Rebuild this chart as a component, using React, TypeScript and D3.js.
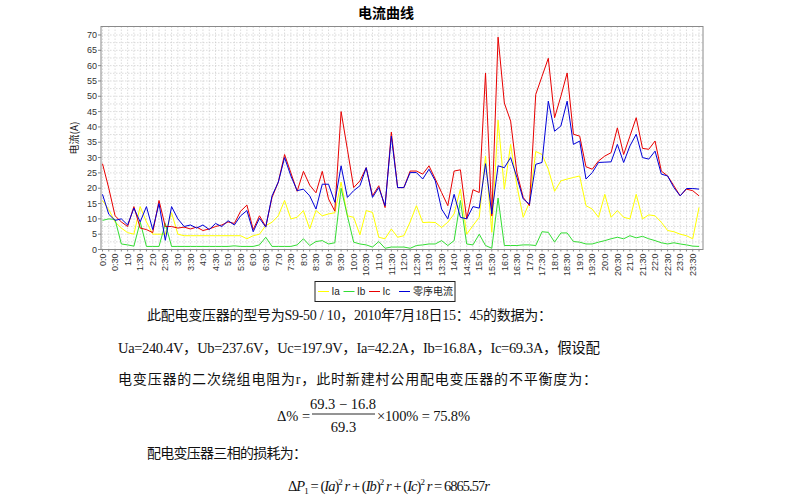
import React from 'react';
import * as d3 from 'd3';

// 96 samples, every 15 minutes
const TIMES: string[] = d3.range(96).map((i) => `${Math.floor(i / 4)}:${(i % 4) * 15}`);

const IA = [16, 13, 9, 7, 5.5, 5, 14, 9, 5, 5, 5, 12, 5, 4.5, 4.5, 4.5, 4.5, 4.5, 4.5, 4.5,
  4.5, 4.5, 4.5, 3.5, 4.5, 5, 7.8, 8.9, 11, 16, 10, 10.5, 12.7, 6.7, 12.7, 11, 11.6, 12, 22, 11,
  10.5, 4.8, 12.7, 12.1, 4, 3.5, 6.7, 4, 4.5, 9, 14.3, 8.8, 8.9, 8.8, 7.2, 8.9, 11.6, 19.7, 5, 7.8,
  10.5, 30.5, 5.6, 42.2, 19.7, 34.3, 20.8, 10.5, 15.4, 32, 31, 26.2, 19, 22.4, 23, 23.5, 24, 14.3, 13.2, 10.5,
  18, 10.5, 12.7, 10.5, 10, 18, 10, 11.3, 11, 8.9, 6.2, 5.8, 5, 4.5, 3.5, 13.7];

const IB = [9.5, 10, 9.8, 1.8, 1.5, 1.1, 9, 1, 1, 1, 8.5, 1, 1, 1, 1, 1, 1, 1, 1, 1,
  1, 1.2, 1, 1, 1, 1.5, 4, 1, 1, 1, 1, 1.5, 3.5, 1.3, 2.6, 2.9, 1.8, 2.2, 20, 11,
  2.4, 1.8, 1.5, 0.8, 2.6, 0.4, 0.8, 0.8, 0.8, 0.4, 1.3, 1.5, 1.8, 1.8, 2.9, 1.3, 2.9, 16, 1.8, 1.5,
  5, 1.3, 0.4, 16.8, 1.3, 1.3, 1.3, 1.5, 1.5, 1.3, 5.8, 5.6, 2.4, 5.4, 5.4, 2.6, 2.4, 1.8, 1.8, 2.4,
  2.9, 3.5, 4, 3.5, 4.5, 3.8, 4.3, 3.5, 2.9, 2.2, 1.8, 2.2, 1.8, 1.5, 1.1, 1];

const IC = [28, 20, 11, 9, 7.5, 14, 7, 6.5, 5.5, 16, 7.5, 7.5, 7, 7.3, 6.7, 7.3, 6.2, 6.7, 7.5, 8,
  9, 8.5, 12.5, 14.5, 6.5, 11, 7.5, 17, 22, 31, 25, 19, 25.5, 21, 18.5, 25.5, 16.5, 12.5, 45, 32.7,
  20.2, 22.4, 26.7, 17.5, 20.8, 13.7, 38.3, 20.2, 20.2, 25.6, 25.6, 24.6, 27.3, 23, 18.6, 14.3, 25.6, 26, 10, 19.5,
  18.6, 57.6, 11, 69.3, 47.8, 41.9, 25, 17, 14.3, 50.6, 56.5, 62.4, 43, 50, 57.6, 37.6, 37, 27, 26.2, 28.9,
  30.5, 31.6, 39.7, 31, 37, 43, 33, 32.7, 35.4, 25.6, 24, 20.8, 17.5, 19.7, 19.2, 17.5];

const I0 = [18, 11.5, 9.5, 10, 8, 13.5, 9, 14, 6.5, 15, 3, 14, 10, 7.5, 8, 7, 8, 6.5, 8.5, 7.5,
  9.4, 8, 11, 12.7, 5.8, 10.2, 7.3, 17.5, 22, 30, 24, 19.2, 19.7, 17.5, 13.2, 21.3, 21.3, 15.4, 27.3, 17,
  19.2, 20.8, 26.7, 17, 20.2, 14.3, 37, 20.2, 20.2, 25.1, 25.1, 23, 26.2, 22.4, 13.2, 10, 18, 10.5, 10, 14,
  13.5, 28, 11.6, 27.3, 26.7, 30, 23.5, 16.5, 14.8, 27.8, 28.4, 48.4, 38.6, 40.3, 48.4, 34.3, 35.4, 23, 25.1, 28.4,
  28.5, 28.6, 34.3, 28.4, 33.8, 37.6, 30, 29.5, 32.1, 24.6, 24, 20.2, 17.5, 19.9, 19.9, 19.7];

const SERIES_NAMES = ['Ia', 'Ib', 'Ic', '零序电流'];
const SERIES_VALUES = [IA, IB, IC, I0];
const SERIES_COLORS = ['#ffff00', '#33dd33', '#e80000', '#0000d8'];

const Y_TICKS = d3.range(0, 71, 5);
const Y_GRID = d3.range(0, 72.5, 2.5);

const TITLE = '电流曲线';
const Y_LABEL = '电流(A)';

const SERIF = "'Liberation Serif', 'Times New Roman', 'Noto Sans CJK SC', serif";
const SANS = "'Liberation Sans', Arial, 'Noto Sans CJK SC', sans-serif";
const CJK = "'Noto Sans CJK SC', 'Liberation Sans', sans-serif";

export default function App() {
  const left = 101, right = 703, top = 26.5, bottom = 249.5;
  const x = d3.scalePoint<string>().domain(TIMES).range([102.5, 699]);
  const y = d3.scaleLinear().domain([0, 72.77]).range([bottom, top]);
  const line = d3.line<number>().x((_, i) => x(TIMES[i]) as number).y((d) => y(d));

  const legendItems = [
    { line: 318, text: 331.5 },
    { line: 343.5, text: 357 },
    { line: 369, text: 382.5 },
    { line: 399, text: 413 },
  ];

  return (
    <div style={{ position: 'absolute', left: 0, top: 0 }}>
      <svg width={796} height={498} style={{ display: 'block', background: '#fff' }}>
        <rect x={0} y={0} width={796} height={498} fill="#fff" />
        <text x={386} y={18} textAnchor="middle" fontFamily={CJK} fontWeight="bold" fontSize={14}>{TITLE}</text>

        {/* grid */}
        <g stroke="#c4c4c4" strokeWidth={0.6} strokeDasharray="1.5,1.5">
          {TIMES.map((t) => (
            <line key={t} x1={x(t)} x2={x(t)} y1={top} y2={bottom} />
          ))}
          {Y_GRID.map((v) => (
            <line key={v} x1={left} x2={right} y1={y(v)} y2={y(v)} />
          ))}
        </g>
        <rect x={left} y={top} width={right - left} height={bottom - top} fill="none" stroke="#8a8a8a" strokeWidth={1} />

        {/* y axis */}
        <g fontFamily={SANS} fontSize={9} fill="#333">
          {Y_TICKS.map((v) => (
            <g key={v}>
              <line x1={left - 3} x2={left} y1={y(v)} y2={y(v)} stroke="#888" />
              <text x={left - 4} y={y(v)} dy="0.35em" textAnchor="end">{v}</text>
            </g>
          ))}
        </g>
        <text transform={`translate(78, ${(top + bottom) / 2}) rotate(-90)`} textAnchor="middle" fontFamily={CJK} fontSize={10} fill="#222">{Y_LABEL}</text>

        {/* x axis */}
        <g fontFamily={SANS} fontSize={9} fill="#333">
          {TIMES.map((t) => (
            <g key={t}>
              <line x1={x(t)} x2={x(t)} y1={bottom} y2={bottom + 2} stroke="#888" />
              {t.endsWith(':0') || t.endsWith(':30') ? (
                <text transform={`translate(${(x(t) as number) + 3.2}, ${bottom + 4}) rotate(-90)`} textAnchor="end">{t}</text>
              ) : null}
            </g>
          ))}
        </g>

        {/* series */}
        {SERIES_VALUES.map((vals, k) => (
          <path key={SERIES_NAMES[k]} d={line(vals) || ''} fill="none" stroke={SERIES_COLORS[k]} strokeWidth={1} />
        ))}

        {/* legend */}
        <rect x={315} y={281.5} width={140} height={20} fill="#fff" stroke="#222" strokeWidth={1} />
        {SERIES_NAMES.map((n, k) => (
          <g key={n}>
            <line x1={legendItems[k].line} x2={legendItems[k].line + 11} y1={291.5} y2={291.5} stroke={SERIES_COLORS[k]} strokeWidth={1} />
            <text x={legendItems[k].text} y={291.5} dy="0.35em" fontFamily={k < 3 ? SANS : CJK} fontSize={10} fill="#222">{n}</text>
          </g>
        ))}

        {/* text body */}
        <g fontFamily={SERIF} fontSize={14} fill="#111">
          <text x={147} y={320} textLength={405} lengthAdjust="spacing">此配电变压器的型号为S9-50 / 10，2010年7月18日15：45的数据为：</text>
          <text x={118} y={353} fontSize={14.5} textLength={482} lengthAdjust="spacing">Ua=240.4V，Ub=237.6V，Uc=197.9V，Ia=42.2A，Ib=16.8A，Ic=69.3A，假设配</text>
          <text x={118} y={384} textLength={479} lengthAdjust="spacing">电变压器的二次绕组电阻为r，此时新建村公用配电变压器的不平衡度为：</text>

          <text x={277} y={420.5} fontSize={14.5}>Δ% =</text>
          <text x={343} y={409} textAnchor="middle" fontSize={14.5}>69.3 − 16.8</text>
          <line x1={312} x2={375} y1={414} y2={414} stroke="#111" strokeWidth={0.9} />
          <text x={343.5} y={432} textAnchor="middle" fontSize={14.5}>69.3</text>
          <text x={377} y={420.5} fontSize={14.5} textLength={93} lengthAdjust="spacing">×100% = 75.8%</text>

          <text x={147} y={458} textLength={160} lengthAdjust="spacing">配电变压器三相的损耗为：</text>

          <text x={288} y={491} fontSize={14.5} textLength={202} lengthAdjust="spacing">
            <tspan>Δ</tspan><tspan fontStyle="italic">P</tspan>
            <tspan fontSize={9} dy={3}>1</tspan>
            <tspan dy={-3}> = (</tspan><tspan fontStyle="italic">Ia</tspan><tspan>)</tspan>
            <tspan fontSize={9} dy={-6}>2</tspan><tspan dy={6} fontStyle="italic"> r</tspan>
            <tspan> + (</tspan><tspan fontStyle="italic">Ib</tspan><tspan>)</tspan>
            <tspan fontSize={9} dy={-6}>2</tspan><tspan dy={6} fontStyle="italic"> r</tspan>
            <tspan> + (</tspan><tspan fontStyle="italic">Ic</tspan><tspan>)</tspan>
            <tspan fontSize={9} dy={-6}>2</tspan><tspan dy={6} fontStyle="italic"> r</tspan>
            <tspan> = 6865.57</tspan><tspan fontStyle="italic">r</tspan>
          </text>
        </g>
      </svg>
    </div>
  );
}
